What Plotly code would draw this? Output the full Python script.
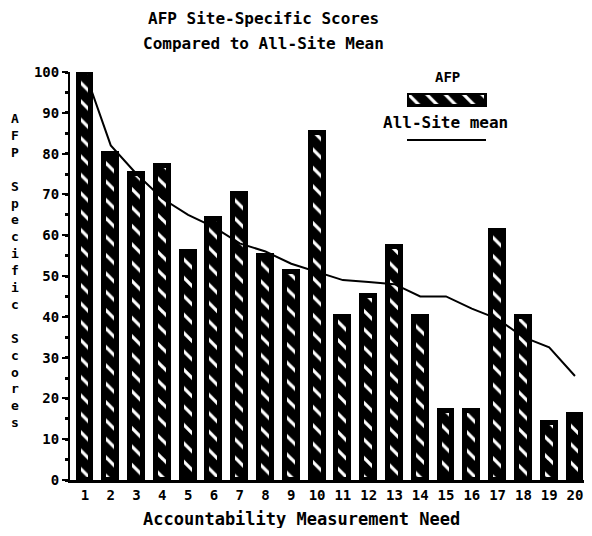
import plotly.graph_objects as go

needs = list(range(1, 21))
afp_scores = [100, 80, 75, 77, 56, 64, 70, 55, 51, 85, 40, 45, 57, 40, 17, 17, 61, 40, 14, 16]
all_site_mean = [100, 82, 75, 69, 65, 62, 58, 56, 53, 51, 49, 48.5, 48, 45, 45, 42, 39.5, 35, 32.5, 25.5]
y_ticks = list(range(0, 101, 10))

FONT = "DejaVu Sans Mono"
pattern = dict(shape="\\", fgcolor="white", bgcolor="black", size=13, solidity=0.25, fillmode="replace")

# page offset of 8px (body margin); plot area on page: x 70..584, y 72..480
PL, PR, PT, PB = 70, 584, 72, 480
def px(x):
    return (x - PL) / (PR - PL)
def py(y):
    return (PB - y) / (PB - PT)

fig = go.Figure()
fig.add_trace(go.Bar(
    x=needs, y=afp_scores, width=0.5, name="AFP",
    marker=dict(color="black", pattern=pattern, line=dict(color="black", width=5)),
    showlegend=False,
))
fig.add_trace(go.Scatter(
    x=needs, y=all_site_mean, mode="lines", name="All-Site mean",
    line=dict(color="black", width=2), showlegend=False,
))
# legend swatch (inset axis)
fig.add_trace(go.Bar(
    x=[1], y=[0], orientation="h", width=1, xaxis="x2", yaxis="y2",
    marker=dict(color="black", pattern=pattern, line=dict(color="black", width=5)),
    showlegend=False, hoverinfo="skip",
))

fig.update_layout(
    width=576, height=520,
    margin=dict(l=62, r=0, t=64, b=48),
    paper_bgcolor="white", plot_bgcolor="white",
    font=dict(family=FONT, color="black", size=14, weight="bold"),
    xaxis=dict(
        range=[0.42, 20.35], tickvals=needs, ticktext=[str(n) for n in needs],
        showline=True, linecolor="black", linewidth=3, ticks="", showgrid=False,
        zeroline=False, tickfont=dict(size=14, weight="bold"),
    ),
    yaxis=dict(
        range=[0, 100], tickvals=y_ticks, showline=True, linecolor="black", linewidth=2,
        ticks="outside", ticklen=6, tickwidth=2, tickcolor="black", showgrid=False, zeroline=False,
        tickfont=dict(size=14, weight="bold"),
        minor=dict(dtick=5, ticks="outside", ticklen=3, tickwidth=3, tickcolor="black", showgrid=False),
    ),
    xaxis2=dict(domain=[px(407), px(487)], range=[0, 1], visible=False, anchor="y2"),
    yaxis2=dict(domain=[py(107), py(93)], range=[-0.5, 0.5], visible=False, anchor="x2"),
    bargap=0,
)

def note(text, x, y, size):
    fig.add_annotation(text=text, x=px(x), y=py(y), xref="paper", yref="paper", xanchor="center",
                       yanchor="middle", showarrow=False, font=dict(size=size, weight="bold"))

note("AFP Site-Specific Scores", 263, 18, 16)
note("Compared to All-Site Mean", 263, 43, 16)
note("AFP", 447, 77, 14)
note("All-Site mean", 445, 122, 16)
note("Accountability Measurement Need", 301, 519, 17)
fig.add_shape(type="line", x0=px(407), x1=px(486), y0=py(140), y1=py(140), xref="paper", yref="paper",
              line=dict(color="black", width=2))

ytitle = "AFP Specific Scores"
stacked = "<br>".join(c if c != " " else "\u00a0" for c in ytitle)
fig.add_annotation(text=stacked, x=px(15), y=py(270), xref="paper", yref="paper", xanchor="center",
                   yanchor="middle", showarrow=False, font=dict(size=13, weight="bold"), align="center")

fig.write_html("out.html")
